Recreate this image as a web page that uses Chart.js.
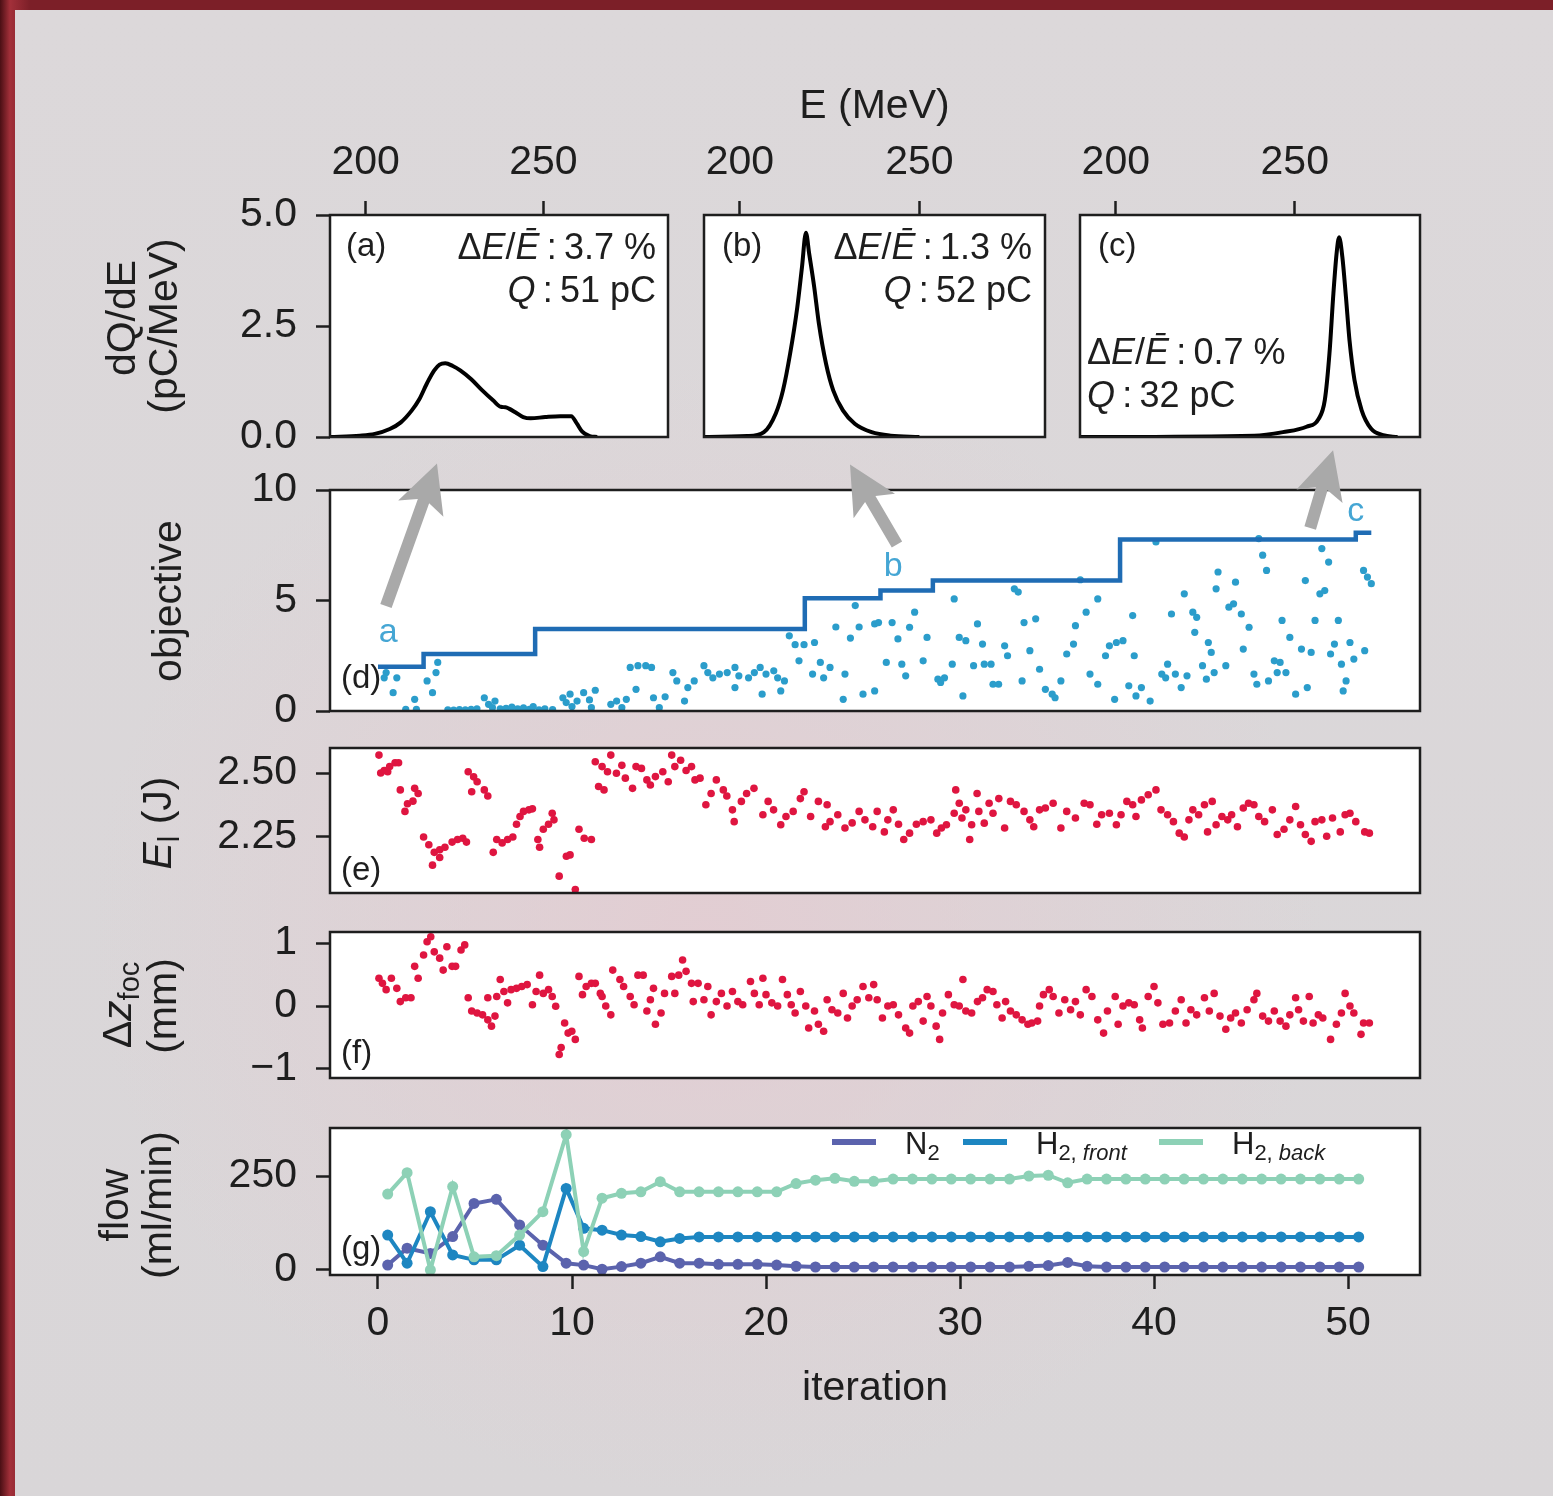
<!DOCTYPE html>
<html>
<head>
<meta charset="utf-8">
<title>Optimisation run</title>
<script src="https://cdn.jsdelivr.net/npm/chart.js@4.4.1/dist/chart.umd.min.js"></script>
<style>
  html, body { margin: 0; padding: 0; }
  body {
    position: relative; width: 1553px; height: 1496px; overflow: hidden;
    background: linear-gradient(90deg, #4a0f14 0px, #a3303a 10px, #7c1f28 30px);
  }
  #sheet {
    position: absolute; left: 15px; top: 10px; right: 0; bottom: 0;
    background:
      radial-gradient(ellipse 40% 38% at 45% 62%, rgba(228,203,209,0.8), rgba(228,203,209,0) 100%),
      linear-gradient(180deg, #dcd8da, #d9d6d8);
  }
  canvas { position: absolute; }
</style>
</head>
<body>
<div id="sheet"></div>
<canvas id="specA" width="690" height="390" style="left:0px;top:60px"></canvas>
<canvas id="specB" width="370" height="390" style="left:690px;top:60px"></canvas>
<canvas id="specC" width="370" height="390" style="left:1065px;top:60px"></canvas>
<canvas id="objective" width="1553" height="290" style="left:0px;top:440px"></canvas>
<canvas id="energy" width="1553" height="175" style="left:0px;top:735px"></canvas>
<canvas id="focus" width="1553" height="170" style="left:0px;top:920px"></canvas>
<canvas id="flow" width="1553" height="300" style="left:0px;top:1115px"></canvas>

<script>
// ---- data: spectra (a), (b), (c)  [E (MeV), dQ/dE (pC/MeV)]
const specA = [[190,0],[198.4,0.03],[202.6,0.07],[206.8,0.18],[209.9,0.33],[213,0.6],[215.1,0.85],[217.2,1.2],
  [219.3,1.5],[220.8,1.63],[222.4,1.66],[224.5,1.6],[226.6,1.5],[229.7,1.3],[232.8,1.05],[235.9,0.82],[238,0.68],
  [239.3,0.67],[240.3,0.64],[242.2,0.55],[244.3,0.45],[246.4,0.42],[250.5,0.45],[254.7,0.47],[257.8,0.47],
  [259.4,0.3],[260.9,0.12],[263,0.02],[265.1,0]];
const specB = [[190,0],[202,0.02],[206.7,0.11],[210,0.53],[212,1.05],[214,1.88],[216,2.93],[217.3,3.83],[218.4,4.6],
  [219.3,4.13],[220.7,3.38],[222,2.56],[224,1.65],[226,1.05],[228.7,0.6],[232,0.3],[236.7,0.11],[242,0.03],[250,0]];
const specC = [[190,0],[238.7,0.03],[246.7,0.11],[253.3,0.23],[256.7,0.41],[258.4,0.83],[259.7,1.88],[260.8,3.23],
  [261.7,4.14],[262.4,4.5],[263.3,4.06],[264.3,3.16],[265.3,2.18],[266.7,1.28],[268.7,0.6],[271.3,0.19],
  [274.7,0.04],[278.7,0]];
const spreadPct = ['3.7', '1.3', '0.7'];
const chargePC = ['51', '52', '32'];

// ---- data: objective per sample [iteration, objective]
const objSamples = [
  [0.42,1.74],[0.32,1.5],[0.97,1.5],[0.78,0.83],[1.89,0.53],[2.53,1.36],[3.08,2.2],[2.99,1.74],[2.81,0.83],[1.43,0.08],[1.98,0.08],
  [3.6,0.05],[3.9,0.04],[4.2,0.06],[4.5,0.05],[4.8,0.07],[5.1,0.1],
  [5.48,0.6],[6.03,0.45],[5.7,0.3],[5.9,0.15],[6.3,0.1],
  [6.6,0.12],[6.9,0.18],[7.2,0.1],[7.5,0.14],[7.8,0.08],[8.0,0.2],[8.3,0.05],[8.6,0.1],[9.0,0.06],
  [9.53,0.6],[9.9,0.76],[10.6,0.83],[11.2,0.94],[9.7,0.38],[10.26,0.45],[11.0,0.15],[10.0,0.2],[10.9,0.5],
  [12.3,0.45],[12.8,0.53],[13.3,0.98],[12.57,0.15],[12.0,0.3],
  [13.0,1.97],[13.4,2.05],[13.8,2.05],[14.1,1.97],
  [14.2,0.6],[14.8,0.64],[14.5,0.15],[15.8,0.45],
  [15.2,1.74],[15.4,1.36],[15.97,1.06],[16.3,1.36],[16.8,2.05],[17.0,1.74],[17.26,1.5],[17.6,1.67],[18.0,1.74],
  [18.4,1.97],[18.4,1.06],[18.6,1.59],[19.1,1.5],[19.4,1.74],[19.7,1.97],[20.0,1.67],[20.4,1.82],[20.6,1.5],
  [19.8,0.76],[20.76,0.91],[20.95,1.36],
  [21.2,3.4],[21.5,3.0],[21.96,3.0],[22.5,3.1],[21.7,2.27],[22.8,2.2],[22.4,1.67],[22.97,1.5],[23.3,1.97],
  [24.07,1.67],[23.6,3.8],[24.35,3.3],[24.8,3.8],[24.6,4.77],[23.98,0.53],[25.0,0.76],[25.6,3.94],
  [25.6,0.91],[25.8,4.0],[26.5,4.0],[26.2,2.2],[27.0,2.12],[27.2,1.59],[26.8,3.26],[27.4,3.79],[27.66,4.47],
  [28.1,2.27],[28.3,3.33],[28.86,1.44],[29.2,1.5],[29.0,1.29],[29.6,2.12],[29.7,5.07],[29.96,3.33],[30.15,0.68],
  [30.3,3.18],[30.9,3.94],[30.7,2.05],[31.16,3.03],[31.25,2.12],[31.6,2.12],[31.7,1.21],[31.99,1.21],[32.3,2.95],
  [32.45,2.5],[32.8,5.53],[33.0,5.38],[33.3,4.0],[33.9,4.17],[33.2,1.36],[33.6,2.73],[34.1,1.89],[34.4,0.98],
  [34.75,0.76],[35.2,1.36],[34.9,0.6],[35.5,2.58],[35.85,3.03],[35.95,3.86],[36.5,4.47],[36.2,5.94],[37.1,5.07],
  [36.7,1.67],[37.1,1.21],[37.97,0.53],[37.7,2.95],[38.06,3.1],[38.4,3.18],[37.5,2.5],[38.98,2.5],[38.7,1.14],
  [39.35,1.06],[39.07,0.68],[39.8,0.45],[38.9,4.32],[40.1,7.65],[40.7,2.12],[40.4,1.67],[40.6,1.5],[41.1,1.67],
  [41.4,1.06],[41.7,1.59],[40.9,4.39],[41.56,5.3],[42.0,4.47],[42.2,4.24],[42.1,3.56],[42.8,3.1],[42.95,2.65],
  [42.5,2.05],[42.7,1.44],[43.1,1.74],[43.7,2.05],[43.3,6.29],[43.2,5.53],[44.2,5.83],[43.86,4.7],[44.1,4.85],
  [44.5,4.39],[44.9,3.79],[44.6,2.8],[45.15,1.67],[45.3,1.21],[45.9,1.36],[45.6,7.05],[45.8,6.36],[45.4,7.8],
  [46.2,2.27],[46.5,2.2],[46.35,1.74],[46.8,1.74],[46.6,4.1],[47.0,3.33],[47.3,0.76],[47.9,1.06],[47.6,2.8],
  [48.1,2.65],[47.8,5.9],[48.3,4.1],[48.65,7.35],[49.0,6.74],[48.55,5.3],[48.8,5.45],[49.5,4.1],[49.1,2.58],
  [49.3,3.03],[49.66,2.12],[49.9,1.36],[49.75,0.91],[50.1,3.1],[50.3,2.35],[50.86,2.73],[50.8,6.36],[51.0,6.06],[51.2,5.76]
];
// best objective so far (step line)
const bestIter = [0, 2.35, 8.1, 22.0, 25.9, 28.6, 38.25, 50.4, 51.2];
const bestVal = [2.0, 2.58, 3.71, 5.1, 5.45, 5.9, 7.76, 8.06, 8.06];

// ---- data: laser energy E_l (J)
const energySamples = [
  [0.05,2.57],[0.14,2.50],[0.32,2.51],[0.6,2.525],[0.88,2.54],[1.06,2.54],[0.5,2.505],
  [1.15,2.434],[1.89,2.44],[2.07,2.42],[1.52,2.38],[1.8,2.39],[1.39,2.35],
  [2.35,2.25],[2.62,2.22],[2.9,2.19],[3.18,2.20],[3.45,2.21],[3.82,2.23],[4.1,2.24],[4.37,2.245],[4.56,2.23],[2.81,2.14],[3.18,2.17],
  [4.65,2.505],[4.93,2.485],[5.11,2.466],[4.83,2.427],[5.48,2.434],[5.66,2.41],
  [5.94,2.19],[6.12,2.24],[6.4,2.227],[6.68,2.24],[6.95,2.25],
  [7.14,2.30],[7.32,2.33],[7.5,2.35],[7.78,2.356],[7.96,2.36],
  [8.24,2.24],[8.33,2.21],[8.52,2.28],[8.79,2.30],[9.07,2.317],[8.98,2.343],
  [9.34,2.097],[9.71,2.175],[9.9,2.18],[10.17,2.045],
  [10.36,2.28],[10.63,2.245],[11.0,2.24],
  [11.2,2.544],[11.55,2.525],[11.37,2.447],[11.65,2.434],
  [12.0,2.57],[11.83,2.505],[12.29,2.499],[12.57,2.53],[12.75,2.48],[13.12,2.44],
  [13.3,2.525],[13.58,2.518],[13.86,2.473],[14.04,2.453],[14.3,2.486],[14.68,2.505],[14.96,2.466],[15.14,2.57],
  [15.3,2.525],[15.6,2.55],[15.88,2.51],[16.16,2.525],[16.34,2.473],[16.6,2.48],
  [16.9,2.376],[17.17,2.42],[17.44,2.473],[17.8,2.434],[17.98,2.41],
  [18.27,2.356],[18.36,2.31],[18.73,2.389],[19.0,2.42],[19.38,2.44],
  [19.84,2.337],[20.11,2.389],[20.39,2.356],[20.76,2.298],[21.03,2.33],[21.4,2.35],[21.77,2.40],[21.96,2.427],
  [22.3,2.33],[22.7,2.389],[23.15,2.376],[23.3,2.31],[23.06,2.29],[23.7,2.337],[24.07,2.285],[24.44,2.305],
  [24.8,2.35],[25.1,2.317],[25.5,2.29],
  [25.73,2.35],[26.1,2.27],[26.28,2.317],[26.56,2.356],[26.83,2.30],[27.1,2.24],[27.4,2.265],[27.75,2.30],
  [28.1,2.31],[28.5,2.317],[28.8,2.265],[29.04,2.285],[29.3,2.298],
  [29.78,2.434],[29.96,2.382],[29.7,2.343],[30.1,2.324],[30.3,2.356],[30.6,2.298],[30.5,2.24],[30.88,2.42],
  [30.97,2.35],[31.25,2.304],[31.5,2.382],[31.7,2.343],[32.0,2.40],[32.3,2.285],[32.6,2.389],[32.9,2.376],
  [33.3,2.35],[33.6,2.317],[33.8,2.29],[34.1,2.356],[34.4,2.363],[34.8,2.382],[35.2,2.285],[35.5,2.35],
  [35.95,2.324],[36.4,2.382],[36.7,2.376],[37.05,2.30],[37.3,2.337],[37.7,2.343],[38.06,2.298],[38.3,2.337],
  [38.6,2.389],[38.9,2.376],[39.07,2.33],[39.35,2.395],[39.7,2.415],[40.1,2.434],
  [40.36,2.356],[40.7,2.337],[41.0,2.31],[41.3,2.265],[41.56,2.25],[41.8,2.317],[42.0,2.356],[42.3,2.337],
  [42.6,2.376],[42.76,2.27],[43.0,2.389],[43.2,2.298],[43.5,2.33],[43.8,2.317],[44.0,2.337],[44.3,2.29],
  [44.6,2.363],[44.87,2.382],[45.15,2.376],[45.4,2.33],[45.7,2.31],[46.1,2.356],[46.35,2.26],[46.7,2.28],
  [47.0,2.317],[47.3,2.369],[47.55,2.298],[47.8,2.26],[48.1,2.233],[48.3,2.31],[48.65,2.317],[48.9,2.253],
  [49.2,2.324],[49.6,2.27],[49.85,2.337],[50.1,2.343],[50.4,2.31],[50.86,2.27],[51.1,2.265]
];

// ---- data: focus position offset (mm)
const focusSamples = [
  [0.05,0.44],[0.23,0.36],[0.42,0.26],[0.69,0.44],[0.97,0.28],[1.15,0.07],[1.43,0.13],[1.7,0.13],
  [1.89,0.63],[2.07,0.44],[2.35,0.81],[2.53,1.02],[2.72,1.1],[2.9,0.86],[3.18,0.76],[3.36,0.57],[3.55,0.94],
  [3.82,0.63],[4.0,0.63],[4.28,0.89],[4.47,0.97],
  [4.65,0.13],[4.83,-0.08],[5.11,-0.11],[5.39,-0.14],[5.66,-0.22],[5.85,-0.32],[6.03,-0.16],[5.66,0.13],
  [6.12,0.15],[6.3,0.42],[6.49,0.23],[6.68,0.05],[6.86,0.26],[7.14,0.28],[7.41,0.31],[7.69,0.34],[7.96,0.02],
  [8.15,0.23],[8.33,0.49],[8.52,0.2],[8.79,0.26],[8.98,0.15],[9.16,-0.005],
  [9.34,-0.77],[9.44,-0.66],[9.62,-0.27],[9.8,-0.43],[9.99,-0.4],[10.17,-0.53],
  [10.36,0.47],[10.54,0.18],[10.73,0.31],[11.0,0.36],[11.2,0.36],[11.46,0.2],[11.55,0.15],[11.74,0],[12.0,-0.14],
  [12.1,0.57],[12.47,0.42],[12.66,0.31],[13.0,0.15],[13.2,0.02],[13.4,0.49],[13.67,0.49],[13.86,-0.08],
  [14.04,0.1],[14.2,0.28],[14.3,-0.29],[14.59,-0.11],[14.77,0.2],[15.14,0.47],[15.3,0.2],[15.5,0.49],[15.7,0.73],
  [15.88,0.55],[16.16,0.36],[16.25,0.07],[16.5,0.36],[16.8,0.1],[17.0,0.31],[17.17,-0.14],[17.44,0.07],[17.7,0.2],
  [17.99,0],[18.27,0.23],[18.55,0.07],[18.8,0.02],[19.2,0.39],[19.4,0.2],[19.65,0.02],[19.84,0.44],[20.0,0.18],
  [20.3,0.05],[20.6,0],[20.85,0.42],[21.1,0.18],[21.3,0.02],[21.5,-0.11],[21.77,0.23],[22.05,0],[22.2,-0.35],
  [22.5,-0.08],[22.7,-0.29],[22.97,-0.4],[23.15,0.1],[23.4,-0.06],[23.7,-0.11],[23.98,0.2],[24.2,-0.19],
  [24.44,0],[24.7,0.1],[25.0,0.31],[25.3,0.13],
  [25.55,0.34],[25.73,0.1],[26.0,-0.19],[26.28,0],[26.56,0.02],[26.83,-0.14],[27.2,-0.35],[27.4,-0.43],[27.57,0],
  [27.85,0.07],[28.1,-0.24],[28.3,0.15],[28.5,0],[28.77,-0.32],[28.95,-0.53],[29.1,-0.11],[29.4,0.18],[29.7,0.02],
  [29.96,0],[30.15,0.42],[30.3,-0.08],[30.6,-0.11],[30.9,0.07],[31.16,0.13],[31.4,0.26],[31.7,0.23],[31.9,0.02],
  [32.17,-0.19],[32.35,0.07],[32.6,-0.08],[32.9,-0.14],[33.2,-0.22],[33.5,-0.29],[33.7,-0.27],[34.0,-0.24],
  [34.1,0],[34.3,0.18],[34.6,0.26],[34.8,0.15],[35.1,-0.11],[35.4,0.1],[35.7,-0.06],[35.95,0.07],[36.2,-0.14],
  [36.5,0.26],[36.8,0.15],[37.1,-0.22],[37.4,-0.43],[37.6,-0.08],[38.0,0.15],[38.15,-0.29],[38.4,0],[38.7,0.05],
  [38.98,0.02],[39.26,-0.22],[39.4,-0.35],[39.7,0.15],[40.0,0.31],[40.2,0.05],[40.46,-0.29],[40.8,-0.27],
  [41.1,-0.08],[41.4,0.1],[41.65,-0.27],[41.9,-0.06],[42.2,-0.14],[42.6,0.13],[42.85,-0.08],[43.1,0.2],
  [43.4,-0.16],[43.7,-0.37],[43.95,-0.19],[44.2,-0.11],[44.5,-0.27],[44.8,-0.06],[45.15,0.1],[45.3,0.2],
  [45.6,-0.16],[45.9,-0.24],[46.2,-0.08],[46.5,-0.24],[46.8,-0.32],[47.0,-0.14],[47.3,0.13],[47.45,-0.06],
  [47.7,-0.24],[48.0,0.15],[48.2,-0.27],[48.47,-0.14],[48.7,-0.19],[49.1,-0.53],[49.4,-0.29],[49.66,-0.11],
  [49.85,0.2],[50.1,0],[50.3,-0.11],[50.67,-0.45],[50.8,-0.27],[51.1,-0.27]
];

// ---- data: gas flows (ml/min) per iteration
const flowIter = [0.5,1.5,2.7,3.85,4.95,6.1,7.3,8.5,9.7,10.6,11.55,12.55,13.55,14.55,15.55,16.55,17.55,18.55,19.55,20.55,
  21.55,22.55,23.55,24.55,25.55,26.55,27.55,28.55,29.55,30.55,31.55,32.55,33.55,34.55,35.55,36.55,37.55,38.55,39.55,40.55,
  41.55,42.55,43.55,44.55,45.55,46.55,47.55,48.55,49.55,50.55];
const flowN2 = [13,58,44,89,177,188,120,66,18,13,2,9,18,35,18,18,15,15,15,13,
  10,8,8,8,8,8,8,8,8,8,8,8,10,12,20,10,8,8,8,8,
  8,8,8,8,8,8,8,8,8,8];
const flowH2front = [93,18,155,40,27,27,66,9,217,111,106,93,89,75,84,88,88,88,88,88,
  88,88,88,88,88,88,88,88,88,88,88,88,88,88,88,88,88,88,88,88,
  88,88,88,88,88,88,88,88,88,88];
const flowH2back = [202,259,0,222,35,38,93,155,360,49,191,204,208,235,208,208,208,208,208,208,
  230,239,244,236,236,242,242,242,242,242,242,242,250,252,232,242,242,242,242,242,
  242,242,242,242,242,242,242,242,242,242];

// ---- tick labels
const eTicks = [200, 250];
const specYTicks = [0, 2.5, 5];
const iterTicks = [0, 10, 20, 30, 40, 50];
const objTicks = [0, 5, 10];
const energyTicks = [2.25, 2.5];
const focusTicks = [-1, 0, 1];
const flowTicks = [0, 250];

// ---- style
const FONT = "'Liberation Sans', Arial, Helvetica, sans-serif";
const INK = '#1e1e1e';
const BLUE_DOT = '#2b9dcb';
const BLUE_LINE = '#1f6cb4';
const RED_DOT = '#df1540';
const N2_COLOR = '#5b63ad';
const FRONT_COLOR = '#1d86c1';
const BACK_COLOR = '#8dd1b6';
const ITER_MIN = -2.474, ITER_MAX = 53.71;

Chart.defaults.font.family = FONT;
Chart.defaults.color = INK;

const toXY = rows => rows.map(r => ({x: r[0], y: r[1]}));
const zip = (xs, ys) => xs.map((x, i) => ({x, y: ys[i]}));
const fixedTicks = vals => s => { s.ticks = vals.map(v => ({value: v})); };
const tickGrid = () => ({drawOnChartArea: false, drawTicks: true, tickLength: 14, tickWidth: 2.5, tickColor: INK});
const minus = v => (v < 0 ? '\u2212' + Math.abs(v) : String(v));

function yScale(min, max, vals, fmt) {
  return {
    type: 'linear', bounds: 'data', min, max,
    afterBuildTicks: fixedTicks(vals),
    afterFit: s => { s.width = 330; s.paddingTop = 0; s.paddingBottom = 0; },
    grid: tickGrid(), border: {display: false},
    ticks: {font: {size: 41}, color: INK, padding: 19, callback: fmt}
  };
}
function hiddenScale(min, max) {
  return {type: 'linear', bounds: 'data', min, max, display: false};
}

// rich text: parts = [[text, style]], style: i = italic, s = subscript
function rich(ctx, x, y, parts, o) {
  const size = o.size;
  ctx.save();
  ctx.translate(x, y);
  ctx.rotate(o.rot || 0);
  ctx.fillStyle = o.color || INK;
  ctx.textBaseline = 'middle';
  ctx.textAlign = 'left';
  const fontOf = st => (st.includes('i') ? 'italic ' : '') + (st.includes('s') ? Math.round(size * 0.7) : size) + 'px ' + FONT;
  let w = 0;
  const ws = parts.map(([t, st]) => { ctx.font = fontOf(st); const m = ctx.measureText(t).width; w += m; return m; });
  let cx = o.align === 'left' ? 0 : o.align === 'right' ? -w : -w / 2;
  parts.forEach(([t, st], i) => {
    ctx.font = fontOf(st);
    ctx.fillText(t, cx, st.includes('s') ? size * 0.28 : 0);
    cx += ws[i];
  });
  ctx.restore();
}
const UP = -Math.PI / 2;
const tag = (ctx, t, x, y) => rich(ctx, x, y, [[t, '']], {size: 33, align: 'left'});
const spreadNote = (ctx, v, x, y, align) =>
  rich(ctx, x, y, [['\u0394', ''], ['E', 'i'], ['/', ''], ['\u0112', 'i'], ['\u2009:\u2009' + v + ' %', '']], {size: 36, align});
const chargeNote = (ctx, v, x, y, align) =>
  rich(ctx, x, y, [['Q', 'i'], ['\u2009:\u2009' + v + ' pC', '']], {size: 36, align});

// page coordinates of a data value
const px = (chart, v) => chart.scales.x.getPixelForValue(v) + chart.canvas.offsetLeft;
const py = (chart, v) => chart.scales.y.getPixelForValue(v) + chart.canvas.offsetTop;

function arrow(ctx, x0, y0, x1, y1) {
  const ang = Math.atan2(y1 - y0, x1 - x0), len = Math.hypot(x1 - x0, y1 - y0);
  const hw = 24, hl = 40, sw = 6;
  ctx.save();
  ctx.translate(x0, y0);
  ctx.rotate(ang);
  ctx.fillStyle = '#a9a9a9';
  ctx.beginPath();
  ctx.moveTo(0, -sw); ctx.lineTo(len - hl, -sw); ctx.lineTo(len - hl - 8, -hw);
  ctx.lineTo(len, 0);
  ctx.lineTo(len - hl - 8, hw); ctx.lineTo(len - hl, sw); ctx.lineTo(0, sw);
  ctx.closePath();
  ctx.fill();
  ctx.restore();
}

// extra text per canvas, drawn in page coordinates
const NOTES = {};
NOTES.specA = ctx => {
  rich(ctx, 124, 318, [['dQ/dE', '']], {size: 41, rot: UP});
  rich(ctx, 166, 326, [['(pC/MeV)', '']], {size: 41, rot: UP});
  tag(ctx, '(a)', 346, 247);
  spreadNote(ctx, spreadPct[0], 656, 249, 'right');
  chargeNote(ctx, chargePC[0], 656, 292, 'right');
};
NOTES.specB = ctx => {
  tag(ctx, '(b)', 722, 247);
  spreadNote(ctx, spreadPct[1], 1032, 249, 'right');
  chargeNote(ctx, chargePC[1], 1032, 292, 'right');
};
NOTES.specC = ctx => {
  tag(ctx, '(c)', 1098, 247);
  spreadNote(ctx, spreadPct[2], 1087, 354, 'left');
  chargeNote(ctx, chargePC[2], 1087, 397, 'left');
};
NOTES.objective = (ctx, chart) => {
  rich(ctx, 170, 601, [['objective', '']], {size: 41, rot: UP});
  tag(ctx, '(d)', 341, 679);
  // arrows towards the spectra
  arrow(ctx, px(chart, 0.41), py(chart, 4.75), px(chart, 3.04), py(chart, 11.2));
  arrow(ctx, px(chart, 26.75), py(chart, 7.53), px(chart, 24.33), py(chart, 11.15));
  arrow(ctx, px(chart, 48.05), py(chart, 8.28), px(chart, 49.23), py(chart, 11.8));
  const letter = (t, x, y) => rich(ctx, px(chart, x), py(chart, y), [[t, '']], {size: 34, color: '#45a6d4'});
  letter('a', 0.52, 3.53);
  letter('b', 26.55, 6.52);
  letter('c', 50.4, 9.0);
};
NOTES.energy = ctx => {
  rich(ctx, 160, 823, [['E', 'i'], ['l', 's'], [' (J)', '']], {size: 41, rot: UP});
  tag(ctx, '(e)', 341, 871);
};
NOTES.focus = ctx => {
  rich(ctx, 120, 1005, [['\u0394', ''], ['z', 'i'], ['foc', 's']], {size: 41, rot: UP});
  rich(ctx, 165, 1006, [['(mm)', '']], {size: 41, rot: UP});
  tag(ctx, '(f)', 341, 1054);
};
NOTES.flow = ctx => {
  rich(ctx, 117, 1205, [['flow', '']], {size: 41, rot: UP});
  rich(ctx, 160, 1205, [['(ml/min)', '']], {size: 41, rot: UP});
  tag(ctx, '(g)', 341, 1250);
  // legend
  const items = [
    {color: N2_COLOR, x: 832, parts: [['N', ''], ['2', 's']]},
    {color: FRONT_COLOR, x: 963, parts: [['H', ''], ['2, ', 's'], ['front', 'si']]},
    {color: BACK_COLOR, x: 1159, parts: [['H', ''], ['2, ', 's'], ['back', 'si']]}
  ];
  items.forEach(it => {
    ctx.save();
    ctx.strokeStyle = it.color;
    ctx.lineWidth = 6;
    ctx.beginPath();
    ctx.moveTo(it.x, 1142);
    ctx.lineTo(it.x + 44, 1142);
    ctx.stroke();
    ctx.restore();
    rich(ctx, it.x + 73, 1145, it.parts, {size: 31, align: 'left'});
  });
};

const panelPlugin = {
  id: 'panel',
  beforeDraw(chart) {
    const {ctx, chartArea: a} = chart;
    ctx.save();
    ctx.fillStyle = '#ffffff';
    ctx.fillRect(a.left, a.top, a.right - a.left, a.bottom - a.top);
    ctx.restore();
  },
  afterDatasetsDraw(chart) {
    const {ctx, chartArea: a} = chart;
    ctx.save();
    ctx.strokeStyle = INK;
    ctx.lineWidth = 2.5;
    ctx.strokeRect(a.left, a.top, a.right - a.left, a.bottom - a.top);
    ctx.restore();
  },
  afterDraw(chart) {
    const fn = NOTES[chart.canvas.id];
    if (!fn) return;
    const ctx = chart.ctx;
    ctx.save();
    ctx.translate(-chart.canvas.offsetLeft, -chart.canvas.offsetTop);
    fn(ctx, chart);
    ctx.restore();
  }
};

function makeChart(id, datasets, scales, padding) {
  return new Chart(document.getElementById(id), {
    type: 'scatter',
    data: {datasets},
    options: {
      responsive: false, animation: false, devicePixelRatio: 1,
      layout: {padding},
      scales,
      plugins: {legend: {display: false}, tooltip: {enabled: false}}
    },
    plugins: [panelPlugin]
  });
}

// ---- spectra (a), (b), (c)
function spectrumLine(rows) {
  return {data: toXY(rows), showLine: true, borderColor: '#000', borderWidth: 4,
          pointRadius: 0, pointHoverRadius: 0, cubicInterpolationMode: 'monotone'};
}
function energyAxis(withTitle) {
  return {
    type: 'linear', bounds: 'data', position: 'top', min: 190, max: 285,
    afterBuildTicks: fixedTicks(eTicks),
    afterFit: s => { s.height = 155; s.paddingLeft = 0; s.paddingRight = 0; },
    grid: tickGrid(), border: {display: false},
    ticks: {font: {size: 41}, color: INK, padding: 14, maxRotation: 0, autoSkip: false},
    title: {display: withTitle, text: 'E (MeV)', font: {size: 41}, color: INK, padding: {top: 22, bottom: 0}}
  };
}
makeChart('specA', [spectrumLine(specA)],
  {x: energyAxis(false), y: yScale(0, 5, specYTicks, v => v.toFixed(1))},
  {left: 0, right: 22, top: 0, bottom: 13});
makeChart('specB', [spectrumLine(specB)],
  {x: energyAxis(true), y: hiddenScale(0, 5)},
  {left: 14, right: 15, top: 0, bottom: 13});
makeChart('specC', [spectrumLine(specC)],
  {x: energyAxis(false), y: hiddenScale(0, 5)},
  {left: 15, right: 15, top: 0, bottom: 13});

// ---- (d) objective
makeChart('objective', [
  {data: zip(bestIter, bestVal), showLine: true, stepped: true, borderColor: BLUE_LINE, borderWidth: 4.5,
   pointRadius: 0, pointHoverRadius: 0},
  {data: toXY(objSamples), backgroundColor: BLUE_DOT, borderWidth: 0, pointRadius: 3.6, pointHoverRadius: 0}
], {x: hiddenScale(ITER_MIN, ITER_MAX), y: yScale(0, 10, objTicks, v => String(v))},
  {left: 0, right: 133, top: 50, bottom: 19});

// ---- (e) laser energy
makeChart('energy', [
  {data: toXY(energySamples), backgroundColor: RED_DOT, borderWidth: 0, pointRadius: 3.8, pointHoverRadius: 0}
], {x: hiddenScale(ITER_MIN, ITER_MAX), y: yScale(2.0312, 2.5977, energyTicks, v => v.toFixed(2))},
  {left: 0, right: 133, top: 13, bottom: 17});

// ---- (f) focus
makeChart('focus', [
  {data: toXY(focusSamples), backgroundColor: RED_DOT, borderWidth: 0, pointRadius: 3.8, pointHoverRadius: 0}
], {x: hiddenScale(ITER_MIN, ITER_MAX), y: yScale(-1.143, 1.175, focusTicks, minus)},
  {left: 0, right: 133, top: 12, bottom: 12});

// ---- (g) gas flows
function flowLine(ys, color) {
  return {data: zip(flowIter, ys), showLine: true, borderColor: color, backgroundColor: color, borderWidth: 4,
          pointRadius: 5.5, pointBorderWidth: 0, pointHoverRadius: 0};
}
makeChart('flow', [
  flowLine(flowH2back, BACK_COLOR),
  flowLine(flowH2front, FRONT_COLOR),
  flowLine(flowN2, N2_COLOR)
], {
  x: {
    type: 'linear', bounds: 'data', position: 'bottom', min: ITER_MIN, max: ITER_MAX,
    afterBuildTicks: fixedTicks(iterTicks),
    afterFit: s => { s.height = 140; s.paddingLeft = 0; s.paddingRight = 0; },
    grid: tickGrid(), border: {display: false},
    ticks: {font: {size: 41}, color: INK, padding: 10, maxRotation: 0, autoSkip: false},
    title: {display: true, text: 'iteration', font: {size: 41}, color: INK, padding: {top: 0, bottom: 2}}
  },
  y: yScale(-13.3, 377.7, flowTicks, v => String(v))
}, {left: 0, right: 133, top: 13, bottom: 0});
</script>
</body>
</html>
